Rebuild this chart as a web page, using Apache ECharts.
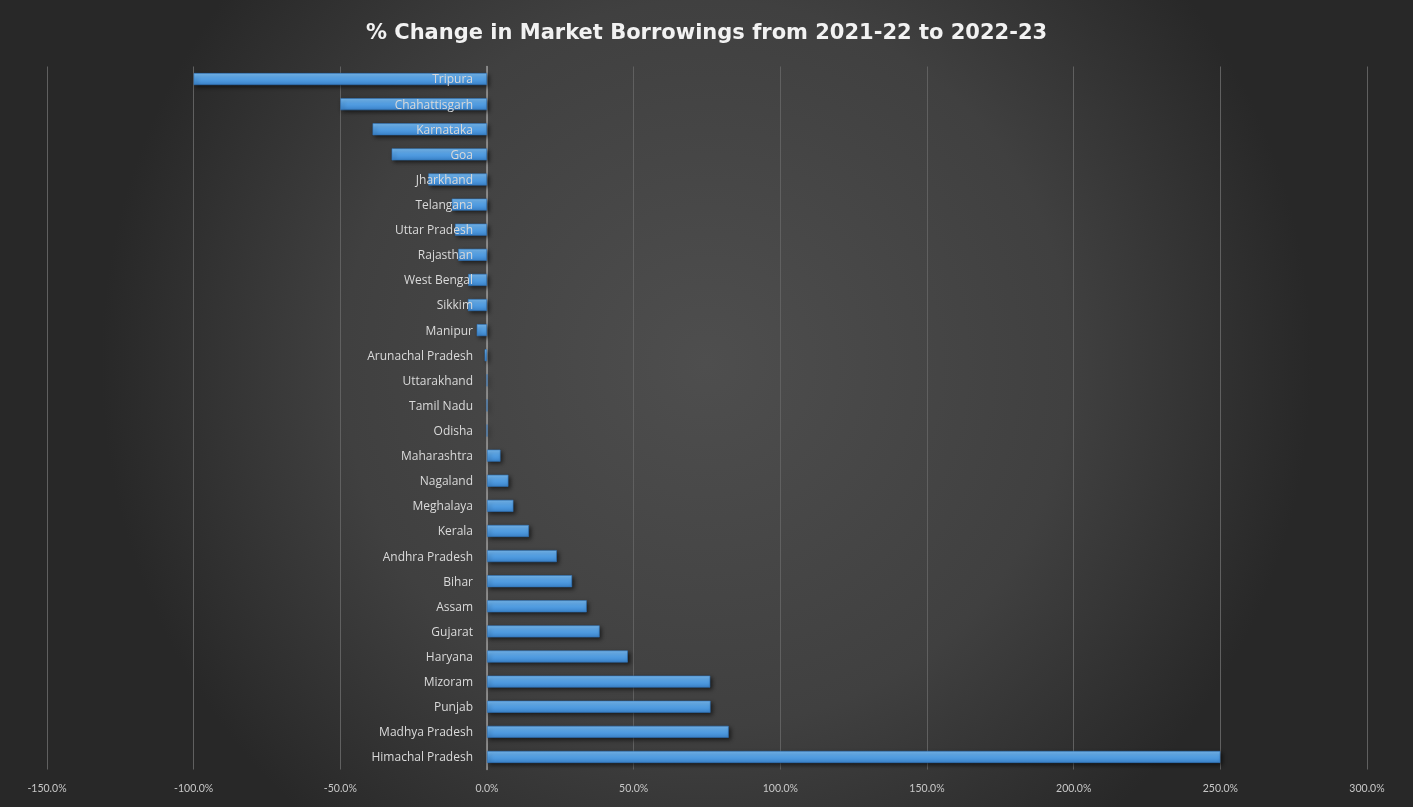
<!DOCTYPE html>
<html>
<head>
<meta charset="utf-8">
<title>% Change in Market Borrowings</title>
<script src="https://cdn.jsdelivr.net/npm/echarts@6/dist/echarts.min.js"></script>
<style>
  html, body { margin: 0; padding: 0; background: #2b2b2b; }
  #chart { width: 1413px; height: 807px; }
</style>
</head>
<body>
<div id="chart"></div>
<script>
'use strict';

/*-----------------------------------------------
|   Data
-----------------------------------------------*/
const states = [
  'Tripura', 'Chahattisgarh', 'Karnataka', 'Goa', 'Jharkhand', 'Telangana',
  'Uttar Pradesh', 'Rajasthan', 'West Bengal', 'Sikkim', 'Manipur',
  'Arunachal Pradesh', 'Uttarakhand', 'Tamil Nadu', 'Odisha', 'Maharashtra',
  'Nagaland', 'Meghalaya', 'Kerala', 'Andhra Pradesh', 'Bihar', 'Assam',
  'Gujarat', 'Haryana', 'Mizoram', 'Punjab', 'Madhya Pradesh', 'Himachal Pradesh'
];
const pctChange = [
  -100, -50, -39, -32.5, -20, -12, -10.9, -9.8, -6.4, -6.5, -3.5,
  -0.8, 0, 0, 0, 4.6, 7.3, 9, 14.3, 23.8, 29, 34, 38.4, 48, 76.1, 76.2, 82.4, 250
];
const axisMin = -150;
const axisMax = 300;
const axisStep = 50;

/*-----------------------------------------------
|   Chart
-----------------------------------------------*/
const chart = echarts.init(document.getElementById('chart'));

const barColor = new echarts.graphic.LinearGradient(0, 0, 0, 1, [
  { offset: 0, color: '#79bbf1' },
  { offset: 0.45, color: '#56a2e6' },
  { offset: 1, color: '#3b84cc' },
]);

// category names sit just left of the zero line, like the axis labels in the source
const nameAnchors = states.map(() => 0);

chart.setOption({
  backgroundColor: new echarts.graphic.RadialGradient(0.5, 0.45, 0.75, [
    { offset: 0, color: '#4e4e4e' },
    { offset: 0.6, color: '#404040' },
    { offset: 1, color: '#282828' },
  ]),
  title: {
    text: '% Change in Market Borrowings from 2021-22 to 2022-23',
    left: 'center',
    top: 18,
    textStyle: {
      color: '#f2f2f2',
      fontFamily: 'DejaVu Sans',
      fontWeight: 'bold',
      fontSize: 21,
    },
  },
  grid: {
    left: 47,
    right: 46,
    top: 66.5,
    bottom: 37.5,
    containLabel: false,
    outerBoundsMode: 'none',
  },
  xAxis: {
    type: 'value',
    min: axisMin,
    max: axisMax,
    interval: axisStep,
    axisLine: { show: false },
    axisTick: { show: false },
    splitLine: { lineStyle: { color: '#606060', width: 1 } },
    axisLabel: {
      color: '#c8c8c8',
      fontFamily: 'Lato',
      fontSize: 10.5,
      margin: 14,
      formatter: (v) => v.toFixed(1) + '%',
    },
  },
  yAxis: {
    type: 'category',
    inverse: true,
    data: states,
    axisLine: { onZero: true, lineStyle: { color: '#9a9a9a', width: 1.5 } },
    axisTick: { show: false },
    axisLabel: { show: false },
  },
  series: [
    {
      type: 'bar',
      data: pctChange,
      barWidth: 12,
      itemStyle: {
        color: barColor,
        borderColor: '#2f74ba',
        borderWidth: 0.6,
        shadowColor: 'rgba(0, 0, 0, 0.6)',
        shadowBlur: 4,
        shadowOffsetX: 2,
        shadowOffsetY: 2,
      },
      animation: false,
      z: 2,
    },
    {
      type: 'bar',
      data: nameAnchors,
      barWidth: 12,
      barGap: '-100%',
      itemStyle: { color: 'transparent' },
      silent: true,
      animation: false,
      z: 5,
      label: {
        show: true,
        position: 'left',
        distance: 14,
        offset: [0, 1],
        color: '#dadada',
        fontFamily: 'Open Sans',
        fontSize: 12,
        formatter: (p) => p.name,
      },
    },
  ],
});
</script>
</body>
</html>
